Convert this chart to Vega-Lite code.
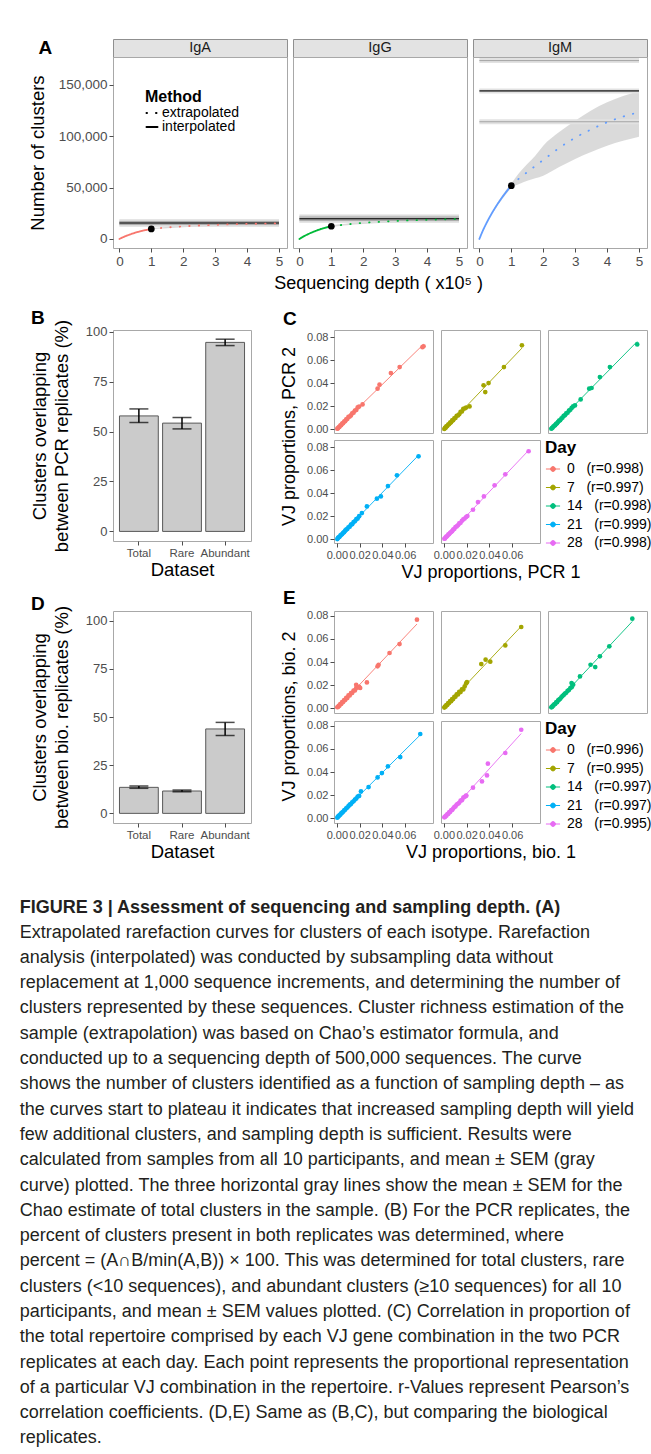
{
"$schema": "https://vega.github.io/schema/vega-lite/v6.json",
"background": "white",
"padding": {"left": 19, "top": 38, "right": 0, "bottom": 0},
"config": {
 "font": "Liberation Sans",
 "view": {"stroke": "#a8a8a8", "strokeWidth": 1},
 "axis": {"grid": false, "domain": false, "tickColor": "#4d4d4d", "tickSize": 4, "tickWidth": 1, "labelColor": "#4d4d4d", "labelPadding": 2, "titleColor": "black", "titleFontWeight": "normal", "titleFontSize": 18},
 "legend": {"titleColor": "black", "labelColor": "black"},
 "title": {"color": "black"}
},
"datasets": {
 "curves": [
  {"iso":"IgA","method":"interpolated","x":0,"y":0,"lo":0,"hi":0},
  {"iso":"IgA","method":"interpolated","x":0.1,"y":1500,"lo":1400,"hi":1600},
  {"iso":"IgA","method":"interpolated","x":0.2,"y":2800,"lo":2620,"hi":2980},
  {"iso":"IgA","method":"interpolated","x":0.3,"y":4000,"lo":3750,"hi":4250},
  {"iso":"IgA","method":"interpolated","x":0.4,"y":5100,"lo":4790,"hi":5410},
  {"iso":"IgA","method":"interpolated","x":0.5,"y":6100,"lo":5740,"hi":6460},
  {"iso":"IgA","method":"interpolated","x":0.6,"y":7000,"lo":6590,"hi":7410},
  {"iso":"IgA","method":"interpolated","x":0.7,"y":7800,"lo":7350,"hi":8250},
  {"iso":"IgA","method":"interpolated","x":0.8,"y":8500,"lo":8010,"hi":8990},
  {"iso":"IgA","method":"interpolated","x":0.9,"y":9150,"lo":8630,"hi":9670},
  {"iso":"IgA","method":"interpolated","x":1,"y":9750,"lo":9200,"hi":10300},
  {"iso":"IgA","method":"extrapolated","x":1,"y":9750,"lo":9200,"hi":10300},
  {"iso":"IgA","method":"extrapolated","x":1.25,"y":10500,"lo":9850,"hi":11150},
  {"iso":"IgA","method":"extrapolated","x":1.5,"y":11150,"lo":10400,"hi":11900},
  {"iso":"IgA","method":"extrapolated","x":1.75,"y":11750,"lo":10900,"hi":12600},
  {"iso":"IgA","method":"extrapolated","x":2,"y":12250,"lo":11300,"hi":13200},
  {"iso":"IgA","method":"extrapolated","x":2.5,"y":13100,"lo":12000,"hi":14200},
  {"iso":"IgA","method":"extrapolated","x":3,"y":13700,"lo":12500,"hi":14900},
  {"iso":"IgA","method":"extrapolated","x":3.5,"y":14200,"lo":12900,"hi":15500},
  {"iso":"IgA","method":"extrapolated","x":4,"y":14600,"lo":13200,"hi":16000},
  {"iso":"IgA","method":"extrapolated","x":4.5,"y":14900,"lo":13400,"hi":16400},
  {"iso":"IgA","method":"extrapolated","x":5,"y":15150,"lo":13600,"hi":16700},
  {"iso":"IgG","method":"interpolated","x":0,"y":0,"lo":0,"hi":0},
  {"iso":"IgG","method":"interpolated","x":0.1,"y":1900,"lo":1780,"hi":2020},
  {"iso":"IgG","method":"interpolated","x":0.2,"y":3550,"lo":3330,"hi":3770},
  {"iso":"IgG","method":"interpolated","x":0.3,"y":5050,"lo":4740,"hi":5360},
  {"iso":"IgG","method":"interpolated","x":0.4,"y":6450,"lo":6060,"hi":6840},
  {"iso":"IgG","method":"interpolated","x":0.5,"y":7700,"lo":7240,"hi":8160},
  {"iso":"IgG","method":"interpolated","x":0.6,"y":8850,"lo":8320,"hi":9380},
  {"iso":"IgG","method":"interpolated","x":0.7,"y":9900,"lo":9310,"hi":10490},
  {"iso":"IgG","method":"interpolated","x":0.8,"y":10850,"lo":10200,"hi":11500},
  {"iso":"IgG","method":"interpolated","x":0.9,"y":11650,"lo":10950,"hi":12350},
  {"iso":"IgG","method":"interpolated","x":1,"y":12350,"lo":11600,"hi":13100},
  {"iso":"IgG","method":"extrapolated","x":1,"y":12350,"lo":11600,"hi":13100},
  {"iso":"IgG","method":"extrapolated","x":1.25,"y":13350,"lo":12500,"hi":14200},
  {"iso":"IgG","method":"extrapolated","x":1.5,"y":14200,"lo":13250,"hi":15150},
  {"iso":"IgG","method":"extrapolated","x":1.75,"y":15000,"lo":13950,"hi":16050},
  {"iso":"IgG","method":"extrapolated","x":2,"y":15650,"lo":14500,"hi":16800},
  {"iso":"IgG","method":"extrapolated","x":2.5,"y":16700,"lo":15400,"hi":18000},
  {"iso":"IgG","method":"extrapolated","x":3,"y":17500,"lo":16050,"hi":18950},
  {"iso":"IgG","method":"extrapolated","x":3.5,"y":18150,"lo":16550,"hi":19750},
  {"iso":"IgG","method":"extrapolated","x":4,"y":18650,"lo":16900,"hi":20400},
  {"iso":"IgG","method":"extrapolated","x":4.5,"y":19050,"lo":17200,"hi":20900},
  {"iso":"IgG","method":"extrapolated","x":5,"y":19400,"lo":17450,"hi":21350},
  {"iso":"IgM","method":"interpolated","x":0,"y":0,"lo":0,"hi":0},
  {"iso":"IgM","method":"interpolated","x":0.1,"y":7500,"lo":7200,"hi":7800},
  {"iso":"IgM","method":"interpolated","x":0.2,"y":14000,"lo":13450,"hi":14550},
  {"iso":"IgM","method":"interpolated","x":0.3,"y":20000,"lo":19200,"hi":20800},
  {"iso":"IgM","method":"interpolated","x":0.4,"y":25500,"lo":24450,"hi":26550},
  {"iso":"IgM","method":"interpolated","x":0.5,"y":30600,"lo":29350,"hi":31850},
  {"iso":"IgM","method":"interpolated","x":0.6,"y":35400,"lo":33950,"hi":36850},
  {"iso":"IgM","method":"interpolated","x":0.7,"y":39900,"lo":38250,"hi":41550},
  {"iso":"IgM","method":"interpolated","x":0.8,"y":44100,"lo":42250,"hi":45950},
  {"iso":"IgM","method":"interpolated","x":0.9,"y":48100,"lo":46100,"hi":50100},
  {"iso":"IgM","method":"interpolated","x":1,"y":51800,"lo":49500,"hi":54000},
  {"iso":"IgM","method":"extrapolated","x":1,"y":51800,"lo":49500,"hi":54000},
  {"iso":"IgM","method":"extrapolated","x":1.25,"y":59000,"lo":53500,"hi":64500},
  {"iso":"IgM","method":"extrapolated","x":1.5,"y":65000,"lo":56500,"hi":73000},
  {"iso":"IgM","method":"extrapolated","x":1.75,"y":71000,"lo":59000,"hi":81000},
  {"iso":"IgM","method":"extrapolated","x":2,"y":76800,"lo":61600,"hi":90700},
  {"iso":"IgM","method":"extrapolated","x":2.5,"y":88500,"lo":70000,"hi":104000},
  {"iso":"IgM","method":"extrapolated","x":3,"y":98500,"lo":77800,"hi":115000},
  {"iso":"IgM","method":"extrapolated","x":3.5,"y":106500,"lo":84500,"hi":125000},
  {"iso":"IgM","method":"extrapolated","x":4,"y":113500,"lo":90700,"hi":132900},
  {"iso":"IgM","method":"extrapolated","x":4.5,"y":119000,"lo":95500,"hi":139000},
  {"iso":"IgM","method":"extrapolated","x":5,"y":123200,"lo":99500,"hi":144000}
 ],
 "hlines": [
  {"iso":"IgA","level":"hi","y":16800},{"iso":"IgA","level":"mean","y":15500},{"iso":"IgA","level":"lo","y":14200},
  {"iso":"IgG","level":"hi","y":21300},{"iso":"IgG","level":"mean","y":19700},{"iso":"IgG","level":"lo","y":18100},
  {"iso":"IgM","level":"hi","y":173500},{"iso":"IgM","level":"mean","y":144000},{"iso":"IgM","level":"lo","y":114000}
 ],
 "vj": [
  {"set":"C","day":0,"x":0.0004,"y":0.0006},{"set":"C","day":0,"x":0.001,"y":0.0009},{"set":"C","day":0,"x":0.0016,"y":0.0018},{"set":"C","day":0,"x":0.0022,"y":0.0021},{"set":"C","day":0,"x":0.003,"y":0.0033},{"set":"C","day":0,"x":0.0038,"y":0.0036},{"set":"C","day":0,"x":0.0046,"y":0.005},{"set":"C","day":0,"x":0.0055,"y":0.0053},{"set":"C","day":0,"x":0.0064,"y":0.0068},{"set":"C","day":0,"x":0.0073,"y":0.0071},{"set":"C","day":0,"x":0.0082,"y":0.0086},{"set":"C","day":0,"x":0.0092,"y":0.009},{"set":"C","day":0,"x":0.0102,"y":0.0108},{"set":"C","day":0,"x":0.0113,"y":0.0111},{"set":"C","day":0,"x":0.0124,"y":0.0121},{"set":"C","day":0,"x":0.0135,"y":0.0139},{"set":"C","day":0,"x":0.0147,"y":0.0145},{"set":"C","day":0,"x":0.0159,"y":0.0163},{"set":"C","day":0,"x":0.0171,"y":0.0168},{"set":"C","day":0,"x":0.0183,"y":0.019},{"set":"C","day":0,"x":0.0196,"y":0.0198},
  {"set":"C","day":0,"x":0.0226,"y":0.0216},{"set":"C","day":0,"x":0.0358,"y":0.0353},{"set":"C","day":0,"x":0.0375,"y":0.0388},{"set":"C","day":0,"x":0.0475,"y":0.0489},{"set":"C","day":0,"x":0.0552,"y":0.0541},{"set":"C","day":0,"x":0.0762,"y":0.0722},{"set":"C","day":0,"x":0.0752,"y":0.0714},
  {"set":"C","day":7,"x":0.0004,"y":0.0003},{"set":"C","day":7,"x":0.001,"y":0.0012},{"set":"C","day":7,"x":0.0016,"y":0.0014},{"set":"C","day":7,"x":0.0022,"y":0.0025},{"set":"C","day":7,"x":0.003,"y":0.0028},{"set":"C","day":7,"x":0.0038,"y":0.0041},{"set":"C","day":7,"x":0.0046,"y":0.0044},{"set":"C","day":7,"x":0.0055,"y":0.0058},{"set":"C","day":7,"x":0.0064,"y":0.0061},{"set":"C","day":7,"x":0.0073,"y":0.0077},{"set":"C","day":7,"x":0.0082,"y":0.0079},{"set":"C","day":7,"x":0.0092,"y":0.0096},{"set":"C","day":7,"x":0.0102,"y":0.0099},{"set":"C","day":7,"x":0.0113,"y":0.0118},{"set":"C","day":7,"x":0.0124,"y":0.012},{"set":"C","day":7,"x":0.0135,"y":0.0131},{"set":"C","day":7,"x":0.0147,"y":0.0152},{"set":"C","day":7,"x":0.0159,"y":0.0155},{"set":"C","day":7,"x":0.0171,"y":0.0178},{"set":"C","day":7,"x":0.0183,"y":0.0181},{"set":"C","day":7,"x":0.0196,"y":0.0189},
  {"set":"C","day":7,"x":0.0226,"y":0.0199},{"set":"C","day":7,"x":0.0349,"y":0.0382},{"set":"C","day":7,"x":0.0364,"y":0.0324},{"set":"C","day":7,"x":0.0393,"y":0.0402},{"set":"C","day":7,"x":0.0528,"y":0.0541},{"set":"C","day":7,"x":0.0686,"y":0.073},
  {"set":"C","day":14,"x":0.0004,"y":0.0005},{"set":"C","day":14,"x":0.001,"y":0.0011},{"set":"C","day":14,"x":0.0016,"y":0.0015},{"set":"C","day":14,"x":0.0022,"y":0.0024},{"set":"C","day":14,"x":0.003,"y":0.0031},{"set":"C","day":14,"x":0.0038,"y":0.0036},{"set":"C","day":14,"x":0.0046,"y":0.0048},{"set":"C","day":14,"x":0.0055,"y":0.0052},{"set":"C","day":14,"x":0.0064,"y":0.0066},{"set":"C","day":14,"x":0.0073,"y":0.0075},{"set":"C","day":14,"x":0.0082,"y":0.0079},{"set":"C","day":14,"x":0.0092,"y":0.0094},{"set":"C","day":14,"x":0.0102,"y":0.0101},{"set":"C","day":14,"x":0.0113,"y":0.0116},{"set":"C","day":14,"x":0.0124,"y":0.0122},{"set":"C","day":14,"x":0.0135,"y":0.0138},{"set":"C","day":14,"x":0.0147,"y":0.0144},{"set":"C","day":14,"x":0.0159,"y":0.0162},{"set":"C","day":14,"x":0.0171,"y":0.0169},{"set":"C","day":14,"x":0.0183,"y":0.0186},{"set":"C","day":14,"x":0.0196,"y":0.0199},
  {"set":"C","day":14,"x":0.0212,"y":0.0208},{"set":"C","day":14,"x":0.0262,"y":0.026},{"set":"C","day":14,"x":0.0337,"y":0.0353},{"set":"C","day":14,"x":0.0358,"y":0.0359},{"set":"C","day":14,"x":0.0431,"y":0.0454},{"set":"C","day":14,"x":0.0519,"y":0.0541},{"set":"C","day":14,"x":0.0759,"y":0.0738},
  {"set":"C","day":21,"x":0.0004,"y":0.0002},{"set":"C","day":21,"x":0.001,"y":0.0012},{"set":"C","day":21,"x":0.0016,"y":0.0017},{"set":"C","day":21,"x":0.0022,"y":0.002},{"set":"C","day":21,"x":0.003,"y":0.0032},{"set":"C","day":21,"x":0.0038,"y":0.0039},{"set":"C","day":21,"x":0.0046,"y":0.0044},{"set":"C","day":21,"x":0.0055,"y":0.0057},{"set":"C","day":21,"x":0.0064,"y":0.0062},{"set":"C","day":21,"x":0.0073,"y":0.0075},{"set":"C","day":21,"x":0.0082,"y":0.0084},{"set":"C","day":21,"x":0.0092,"y":0.009},{"set":"C","day":21,"x":0.0102,"y":0.0105},{"set":"C","day":21,"x":0.0113,"y":0.011},{"set":"C","day":21,"x":0.0124,"y":0.0127},{"set":"C","day":21,"x":0.0135,"y":0.0132},{"set":"C","day":21,"x":0.0147,"y":0.015},{"set":"C","day":21,"x":0.0159,"y":0.0157},{"set":"C","day":21,"x":0.0171,"y":0.0175},{"set":"C","day":21,"x":0.0183,"y":0.018},{"set":"C","day":21,"x":0.0196,"y":0.0201},
  {"set":"C","day":21,"x":0.022,"y":0.0228},{"set":"C","day":21,"x":0.0264,"y":0.0286},{"set":"C","day":21,"x":0.0352,"y":0.0353},{"set":"C","day":21,"x":0.0387,"y":0.0373},{"set":"C","day":21,"x":0.0449,"y":0.0463},{"set":"C","day":21,"x":0.0528,"y":0.0556},{"set":"C","day":21,"x":0.0718,"y":0.0721},
  {"set":"C","day":28,"x":0.0004,"y":0.0005},{"set":"C","day":28,"x":0.001,"y":0.0008},{"set":"C","day":28,"x":0.0016,"y":0.0018},{"set":"C","day":28,"x":0.0022,"y":0.0023},{"set":"C","day":28,"x":0.003,"y":0.0028},{"set":"C","day":28,"x":0.0038,"y":0.004},{"set":"C","day":28,"x":0.0046,"y":0.0045},{"set":"C","day":28,"x":0.0055,"y":0.0057},{"set":"C","day":28,"x":0.0064,"y":0.0063},{"set":"C","day":28,"x":0.0073,"y":0.0071},{"set":"C","day":28,"x":0.0082,"y":0.0085},{"set":"C","day":28,"x":0.0092,"y":0.009},{"set":"C","day":28,"x":0.0102,"y":0.0106},{"set":"C","day":28,"x":0.0113,"y":0.0112},{"set":"C","day":28,"x":0.0124,"y":0.0122},{"set":"C","day":28,"x":0.0135,"y":0.0138},{"set":"C","day":28,"x":0.0147,"y":0.0143},{"set":"C","day":28,"x":0.0159,"y":0.0161},{"set":"C","day":28,"x":0.0171,"y":0.0173},{"set":"C","day":28,"x":0.0183,"y":0.0181},{"set":"C","day":28,"x":0.0196,"y":0.0194},
  {"set":"C","day":28,"x":0.0207,"y":0.0202},{"set":"C","day":28,"x":0.0256,"y":0.0257},{"set":"C","day":28,"x":0.03,"y":0.0324},{"set":"C","day":28,"x":0.0352,"y":0.0373},{"set":"C","day":28,"x":0.0446,"y":0.0469},{"set":"C","day":28,"x":0.054,"y":0.0565},{"set":"C","day":28,"x":0.0745,"y":0.0765},
  {"set":"E","day":0,"x":0.0004,"y":0.0007},{"set":"E","day":0,"x":0.001,"y":0.0009},{"set":"E","day":0,"x":0.0016,"y":0.002},{"set":"E","day":0,"x":0.0022,"y":0.0019},{"set":"E","day":0,"x":0.003,"y":0.0034},{"set":"E","day":0,"x":0.0038,"y":0.0035},{"set":"E","day":0,"x":0.0046,"y":0.0051},{"set":"E","day":0,"x":0.0055,"y":0.0052},{"set":"E","day":0,"x":0.0064,"y":0.007},{"set":"E","day":0,"x":0.0073,"y":0.0069},{"set":"E","day":0,"x":0.0082,"y":0.0088},{"set":"E","day":0,"x":0.0092,"y":0.0087},{"set":"E","day":0,"x":0.0102,"y":0.011},{"set":"E","day":0,"x":0.0113,"y":0.0109},{"set":"E","day":0,"x":0.0124,"y":0.0129},{"set":"E","day":0,"x":0.0135,"y":0.0131},{"set":"E","day":0,"x":0.0147,"y":0.0152},{"set":"E","day":0,"x":0.0159,"y":0.0153},{"set":"E","day":0,"x":0.0171,"y":0.0176},{"set":"E","day":0,"x":0.0183,"y":0.0179},{"set":"E","day":0,"x":0.0196,"y":0.0185},
  {"set":"E","day":0,"x":0.017,"y":0.0202},{"set":"E","day":0,"x":0.0205,"y":0.0174},{"set":"E","day":0,"x":0.0264,"y":0.0223},{"set":"E","day":0,"x":0.0358,"y":0.0362},{"set":"E","day":0,"x":0.0367,"y":0.0376},{"set":"E","day":0,"x":0.0463,"y":0.0478},{"set":"E","day":0,"x":0.0551,"y":0.0556},{"set":"E","day":0,"x":0.0704,"y":0.0768},
  {"set":"E","day":7,"x":0.0004,"y":0.0004},{"set":"E","day":7,"x":0.001,"y":0.0013},{"set":"E","day":7,"x":0.0016,"y":0.0013},{"set":"E","day":7,"x":0.0022,"y":0.0026},{"set":"E","day":7,"x":0.003,"y":0.0027},{"set":"E","day":7,"x":0.0038,"y":0.0042},{"set":"E","day":7,"x":0.0046,"y":0.0043},{"set":"E","day":7,"x":0.0055,"y":0.006},{"set":"E","day":7,"x":0.0064,"y":0.006},{"set":"E","day":7,"x":0.0073,"y":0.0078},{"set":"E","day":7,"x":0.0082,"y":0.0078},{"set":"E","day":7,"x":0.0092,"y":0.0097},{"set":"E","day":7,"x":0.0102,"y":0.0098},{"set":"E","day":7,"x":0.0113,"y":0.0119},{"set":"E","day":7,"x":0.0124,"y":0.0118},{"set":"E","day":7,"x":0.0135,"y":0.0141},{"set":"E","day":7,"x":0.0147,"y":0.0139},{"set":"E","day":7,"x":0.0159,"y":0.0163},{"set":"E","day":7,"x":0.0171,"y":0.0162},{"set":"E","day":7,"x":0.0183,"y":0.0188},{"set":"E","day":7,"x":0.0196,"y":0.0214},
  {"set":"E","day":7,"x":0.0203,"y":0.0225},{"set":"E","day":7,"x":0.0329,"y":0.0382},{"set":"E","day":7,"x":0.0367,"y":0.042},{"set":"E","day":7,"x":0.0408,"y":0.0403},{"set":"E","day":7,"x":0.054,"y":0.0544},{"set":"E","day":7,"x":0.068,"y":0.0704},
  {"set":"E","day":14,"x":0.0004,"y":0.0006},{"set":"E","day":14,"x":0.001,"y":0.001},{"set":"E","day":14,"x":0.0016,"y":0.0017},{"set":"E","day":14,"x":0.0022,"y":0.0023},{"set":"E","day":14,"x":0.003,"y":0.0032},{"set":"E","day":14,"x":0.0038,"y":0.0035},{"set":"E","day":14,"x":0.0046,"y":0.0049},{"set":"E","day":14,"x":0.0055,"y":0.0051},{"set":"E","day":14,"x":0.0064,"y":0.0067},{"set":"E","day":14,"x":0.0073,"y":0.0073},{"set":"E","day":14,"x":0.0082,"y":0.0081},{"set":"E","day":14,"x":0.0092,"y":0.0093},{"set":"E","day":14,"x":0.0102,"y":0.0104},{"set":"E","day":14,"x":0.0113,"y":0.0114},{"set":"E","day":14,"x":0.0124,"y":0.0126},{"set":"E","day":14,"x":0.0135,"y":0.0133},{"set":"E","day":14,"x":0.0147,"y":0.0149},{"set":"E","day":14,"x":0.0159,"y":0.0157},{"set":"E","day":14,"x":0.0171,"y":0.0174},{"set":"E","day":14,"x":0.0183,"y":0.0181},{"set":"E","day":14,"x":0.0196,"y":0.0203},
  {"set":"E","day":14,"x":0.0182,"y":0.0217},{"set":"E","day":14,"x":0.0256,"y":0.0275},{"set":"E","day":14,"x":0.0349,"y":0.0376},{"set":"E","day":14,"x":0.039,"y":0.0356},{"set":"E","day":14,"x":0.0431,"y":0.0449},{"set":"E","day":14,"x":0.0514,"y":0.0536},{"set":"E","day":14,"x":0.0716,"y":0.0776},
  {"set":"E","day":21,"x":0.0004,"y":0.0003},{"set":"E","day":21,"x":0.001,"y":0.0012},{"set":"E","day":21,"x":0.0016,"y":0.0016},{"set":"E","day":21,"x":0.0022,"y":0.0024},{"set":"E","day":21,"x":0.003,"y":0.0029},{"set":"E","day":21,"x":0.0038,"y":0.004},{"set":"E","day":21,"x":0.0046,"y":0.0047},{"set":"E","day":21,"x":0.0055,"y":0.0054},{"set":"E","day":21,"x":0.0064,"y":0.0066},{"set":"E","day":21,"x":0.0073,"y":0.0072},{"set":"E","day":21,"x":0.0082,"y":0.0085},{"set":"E","day":21,"x":0.0092,"y":0.0091},{"set":"E","day":21,"x":0.0102,"y":0.0103},{"set":"E","day":21,"x":0.0113,"y":0.0116},{"set":"E","day":21,"x":0.0124,"y":0.0121},{"set":"E","day":21,"x":0.0135,"y":0.0137},{"set":"E","day":21,"x":0.0147,"y":0.0146},{"set":"E","day":21,"x":0.0159,"y":0.0161},{"set":"E","day":21,"x":0.0171,"y":0.0169},{"set":"E","day":21,"x":0.0183,"y":0.0187},{"set":"E","day":21,"x":0.0196,"y":0.0192},
  {"set":"E","day":21,"x":0.0212,"y":0.0231},{"set":"E","day":21,"x":0.0279,"y":0.0269},{"set":"E","day":21,"x":0.0358,"y":0.0353},{"set":"E","day":21,"x":0.0396,"y":0.0391},{"set":"E","day":21,"x":0.0449,"y":0.0449},{"set":"E","day":21,"x":0.0557,"y":0.053},{"set":"E","day":21,"x":0.0733,"y":0.073},
  {"set":"E","day":28,"x":0.0004,"y":0.0006},{"set":"E","day":28,"x":0.001,"y":0.0009},{"set":"E","day":28,"x":0.0016,"y":0.0019},{"set":"E","day":28,"x":0.0022,"y":0.002},{"set":"E","day":28,"x":0.003,"y":0.0033},{"set":"E","day":28,"x":0.0038,"y":0.0036},{"set":"E","day":28,"x":0.0046,"y":0.0049},{"set":"E","day":28,"x":0.0055,"y":0.0053},{"set":"E","day":28,"x":0.0064,"y":0.0068},{"set":"E","day":28,"x":0.0073,"y":0.0071},{"set":"E","day":28,"x":0.0082,"y":0.0083},{"set":"E","day":28,"x":0.0092,"y":0.0095},{"set":"E","day":28,"x":0.0102,"y":0.0101},{"set":"E","day":28,"x":0.0113,"y":0.0117},{"set":"E","day":28,"x":0.0124,"y":0.0124},{"set":"E","day":28,"x":0.0135,"y":0.0132},{"set":"E","day":28,"x":0.0147,"y":0.0151},{"set":"E","day":28,"x":0.0159,"y":0.0155},{"set":"E","day":28,"x":0.0171,"y":0.0177},{"set":"E","day":28,"x":0.0183,"y":0.0184},{"set":"E","day":28,"x":0.0196,"y":0.0196},
  {"set":"E","day":28,"x":0.0197,"y":0.0193},{"set":"E","day":28,"x":0.0256,"y":0.0264},{"set":"E","day":28,"x":0.0335,"y":0.0318},{"set":"E","day":28,"x":0.0379,"y":0.037},{"set":"E","day":28,"x":0.0387,"y":0.0472},{"set":"E","day":28,"x":0.054,"y":0.0565},{"set":"E","day":28,"x":0.068,"y":0.0767}
 ]
},
"title": {
 "text": "FIGURE 3 | Assessment of sequencing and sampling depth. (A)",
 "subtitle": [
  "Extrapolated rarefaction curves for clusters of each isotype. Rarefaction",
  "analysis (interpolated) was conducted by subsampling data without",
  "replacement at 1,000 sequence increments, and determining the number of",
  "clusters represented by these sequences. Cluster richness estimation of the",
  "sample (extrapolation) was based on Chao’s estimator formula, and",
  "conducted up to a sequencing depth of 500,000 sequences. The curve",
  "shows the number of clusters identified as a function of sampling depth – as",
  "the curves start to plateau it indicates that increased sampling depth will yield",
  "few additional clusters, and sampling depth is sufficient. Results were",
  "calculated from samples from all 10 participants, and mean ± SEM (gray",
  "curve) plotted. The three horizontal gray lines show the mean ± SEM for the",
  "Chao estimate of total clusters in the sample. (B) For the PCR replicates, the",
  "percent of clusters present in both replicates was determined, where",
  "percent = (A∩B/min(A,B)) × 100. This was determined for total clusters, rare",
  "clusters (<10 sequences), and abundant clusters (≥10 sequences) for all 10",
  "participants, and mean ± SEM values plotted. (C) Correlation in proportion of",
  "the total repertoire comprised by each VJ gene combination in the two PCR",
  "replicates at each day. Each point represents the proportional representation",
  "of a particular VJ combination in the repertoire. r-Values represent Pearson’s",
  "correlation coefficients. (D,E) Same as (B,C), but comparing the biological",
  "replicates."
 ],
 "orient": "bottom", "anchor": "start", "frame": "bounds", "offset": 37, "dx": -8,
 "font": "Liberation Sans", "fontSize": 18, "fontWeight": "bold", "color": "#231f20",
 "subtitleFont": "Liberation Sans", "subtitleFontSize": 18, "subtitleColor": "#231f20", "subtitleLineHeight": 25.3, "subtitlePadding": 7, "subtitleFontWeight": "normal"
},
"spacing": 15,
"resolve": {"scale": {"strokeDash": "independent", "fill": "independent", "stroke": "independent"}, "legend": {"strokeDash": "independent", "fill": "independent", "stroke": "independent"}},
"vconcat": [
 {
  "title": {"text": "Sequencing depth  ( x10⁵ )", "orient": "bottom", "anchor": "middle", "frame": "bounds", "dx": 41, "offset": 7, "fontSize": 18, "fontWeight": "normal", "color": "black"},
  "hconcat": [
   {
    "vconcat": [
     {"width": 174, "height": 18, "view": {"fill": "#e3e3e3", "stroke": "#8f8f8f"},
      "title": {"text": "A", "orient": "left", "angle": 0, "align": "right", "baseline": "middle", "anchor": "middle", "offset": 47, "fontSize": 19, "fontWeight": "bold", "color": "black"},
      "data": {"values": [{"iso": "IgA"}]},
      "mark": {"type": "text", "fontSize": 14.5, "color": "#1a1a1a", "baseline": "middle"},
      "encoding": {"text": {"field": "iso"}}},
     {"width": 174, "height": 191,
      "layer": [
       {"data": {"name": "curves"}, "transform": [{"filter": "datum.iso=='IgA' && !(datum.method=='extrapolated' && datum.x==1)"}],
        "mark": {"type": "area", "color": "#d6d6d6", "opacity": 0.9, "interpolate": "monotone"},
        "encoding": {"x": {"field": "x", "type": "quantitative", "scale": {"domain": [-0.2, 5.25], "nice": false, "zero": false}, "axis": {"values": [0,1,2,3,4,5], "title": null, "labelFontSize": 13.5, "labelFlush": false}},
                     "y": {"field": "lo", "type": "quantitative", "scale": {"domain": [-8800, 177000], "nice": false, "zero": false}, "axis": {"values": [0,50000,100000,150000], "format": ",d", "title": "Number of clusters", "titleFontSize": 18.5, "labelFontSize": 13.5, "titlePadding": 11}},
                     "y2": {"field": "hi"}}},
       {"data": {"name": "hlines"}, "transform": [{"filter": "datum.iso=='IgA'"}],
        "mark": {"type": "rule", "color": "#dcdcdc", "strokeWidth": 5},
        "encoding": {"x": {"datum": 0, "type": "quantitative", "axis": {"values": [0,1,2,3,4,5], "title": null, "labelFontSize": 13.5, "labelFlush": false}}, "x2": {"datum": 5},
                     "y": {"field": "y", "type": "quantitative", "axis": {"values": [0,50000,100000,150000], "format": ",d", "title": "Number of clusters", "titleFontSize": 18.5, "labelFontSize": 13.5, "titlePadding": 11}}}},
       {"data": {"name": "hlines"}, "transform": [{"filter": "datum.iso=='IgA' && datum.level!='mean'"}],
        "mark": {"type": "rule", "color": "#a3a3a3", "strokeWidth": 1},
        "encoding": {"x": {"datum": 0, "type": "quantitative", "axis": {"values": [0,1,2,3,4,5], "title": null, "labelFontSize": 13.5, "labelFlush": false}}, "x2": {"datum": 5},
                     "y": {"field": "y", "type": "quantitative", "axis": {"values": [0,50000,100000,150000], "format": ",d", "title": "Number of clusters", "titleFontSize": 18.5, "labelFontSize": 13.5, "titlePadding": 11}}}},
       {"data": {"name": "hlines"}, "transform": [{"filter": "datum.iso=='IgA' && datum.level=='mean'"}],
        "mark": {"type": "rule", "color": "#2b2b2b", "strokeWidth": 1.4},
        "encoding": {"x": {"datum": 0, "type": "quantitative", "axis": {"values": [0,1,2,3,4,5], "title": null, "labelFontSize": 13.5, "labelFlush": false}}, "x2": {"datum": 5},
                     "y": {"field": "y", "type": "quantitative", "axis": {"values": [0,50000,100000,150000], "format": ",d", "title": "Number of clusters", "titleFontSize": 18.5, "labelFontSize": 13.5, "titlePadding": 11}}}},
       {"data": {"name": "curves"}, "transform": [{"filter": "datum.iso=='IgA'"}],
        "mark": {"type": "line", "color": "#F8766D", "strokeWidth": 1.8, "strokeCap": "round", "interpolate": "monotone"},
        "encoding": {"x": {"field": "x", "type": "quantitative", "axis": {"values": [0,1,2,3,4,5], "title": null, "labelFontSize": 13.5, "labelFlush": false}},
                     "y": {"field": "y", "type": "quantitative", "axis": {"values": [0,50000,100000,150000], "format": ",d", "title": "Number of clusters", "titleFontSize": 18.5, "labelFontSize": 13.5, "titlePadding": 11}},
                     "strokeDash": {"field": "method", "type": "nominal", "scale": {"domain": ["extrapolated", "interpolated"], "range": [[0.5, 9], [1, 0]]},
                       "legend": {"title": "Method", "orient": "top-left", "offset": 32, "padding": 0, "titleFontSize": 16, "titleFontWeight": "bold", "labelFontSize": 14, "symbolType": "stroke", "symbolSize": 121, "symbolStrokeWidth": 2, "symbolStrokeColor": "black", "rowPadding": -1, "titlePadding": 1, "labelOffset": 3,
                         "encode": {"symbols": {"update": {"stroke": {"value": "black"}, "strokeCap": {"value": "round"}}}}}}}},
       {"data": {"name": "curves"}, "transform": [{"filter": "datum.iso=='IgA' && datum.method=='interpolated' && datum.x==1"}],
        "mark": {"type": "circle", "color": "black", "size": 45, "opacity": 1},
        "encoding": {"x": {"field": "x", "type": "quantitative", "axis": {"values": [0,1,2,3,4,5], "title": null, "labelFontSize": 13.5, "labelFlush": false}},
                     "y": {"field": "y", "type": "quantitative", "axis": {"values": [0,50000,100000,150000], "format": ",d", "title": "Number of clusters", "titleFontSize": 18.5, "labelFontSize": 13.5, "titlePadding": 11}}}}
      ]}
    ],
    "spacing": 0, "bounds": "flush",
    "resolve": {"scale": {"strokeDash": "independent"}, "legend": {"strokeDash": "independent"}}
   },
   {
    "vconcat": [
     {"width": 174, "height": 18, "view": {"fill": "#e3e3e3", "stroke": "#8f8f8f"},
      "data": {"values": [{"iso": "IgG"}]},
      "mark": {"type": "text", "fontSize": 14.5, "color": "#1a1a1a", "baseline": "middle"},
      "encoding": {"text": {"field": "iso"}}},
     {"width": 174, "height": 191,
      "layer": [
       {"data": {"name": "curves"}, "transform": [{"filter": "datum.iso=='IgG' && !(datum.method=='extrapolated' && datum.x==1)"}],
        "mark": {"type": "area", "color": "#d6d6d6", "opacity": 0.9, "interpolate": "monotone"},
        "encoding": {"x": {"field": "x", "type": "quantitative", "scale": {"domain": [-0.2, 5.25], "nice": false, "zero": false}, "axis": {"values": [0,1,2,3,4,5], "title": null, "labelFontSize": 13.5, "labelFlush": false}},
                     "y": {"field": "lo", "type": "quantitative", "scale": {"domain": [-8800, 177000], "nice": false, "zero": false}, "axis": null},
                     "y2": {"field": "hi"}}},
       {"data": {"name": "hlines"}, "transform": [{"filter": "datum.iso=='IgG'"}],
        "mark": {"type": "rule", "color": "#dcdcdc", "strokeWidth": 5},
        "encoding": {"x": {"datum": 0, "type": "quantitative", "axis": {"values": [0,1,2,3,4,5], "title": null, "labelFontSize": 13.5, "labelFlush": false}}, "x2": {"datum": 5}, "y": {"field": "y", "type": "quantitative", "axis": null}}},
       {"data": {"name": "hlines"}, "transform": [{"filter": "datum.iso=='IgG' && datum.level!='mean'"}],
        "mark": {"type": "rule", "color": "#a3a3a3", "strokeWidth": 1},
        "encoding": {"x": {"datum": 0, "type": "quantitative", "axis": {"values": [0,1,2,3,4,5], "title": null, "labelFontSize": 13.5, "labelFlush": false}}, "x2": {"datum": 5}, "y": {"field": "y", "type": "quantitative", "axis": null}}},
       {"data": {"name": "hlines"}, "transform": [{"filter": "datum.iso=='IgG' && datum.level=='mean'"}],
        "mark": {"type": "rule", "color": "#2b2b2b", "strokeWidth": 1.4},
        "encoding": {"x": {"datum": 0, "type": "quantitative", "axis": {"values": [0,1,2,3,4,5], "title": null, "labelFontSize": 13.5, "labelFlush": false}}, "x2": {"datum": 5}, "y": {"field": "y", "type": "quantitative", "axis": null}}},
       {"data": {"name": "curves"}, "transform": [{"filter": "datum.iso=='IgG'"}],
        "mark": {"type": "line", "color": "#00BA38", "strokeWidth": 1.8, "strokeCap": "round", "interpolate": "monotone"},
        "encoding": {"x": {"field": "x", "type": "quantitative", "axis": {"values": [0,1,2,3,4,5], "title": null, "labelFontSize": 13.5, "labelFlush": false}}, "y": {"field": "y", "type": "quantitative", "axis": null},
                     "strokeDash": {"field": "method", "type": "nominal", "scale": {"domain": ["extrapolated", "interpolated"], "range": [[0.5, 9], [1, 0]]}, "legend": null}}},
       {"data": {"name": "curves"}, "transform": [{"filter": "datum.iso=='IgG' && datum.method=='interpolated' && datum.x==1"}],
        "mark": {"type": "circle", "color": "black", "size": 45, "opacity": 1},
        "encoding": {"x": {"field": "x", "type": "quantitative", "axis": {"values": [0,1,2,3,4,5], "title": null, "labelFontSize": 13.5, "labelFlush": false}}, "y": {"field": "y", "type": "quantitative", "axis": null}}}
      ]}
    ],
    "spacing": 0, "bounds": "flush",
    "resolve": {"scale": {"strokeDash": "independent"}, "legend": {"strokeDash": "independent"}}
   },
   {
    "vconcat": [
     {"width": 174, "height": 18, "view": {"fill": "#e3e3e3", "stroke": "#8f8f8f"},
      "data": {"values": [{"iso": "IgM"}]},
      "mark": {"type": "text", "fontSize": 14.5, "color": "#1a1a1a", "baseline": "middle"},
      "encoding": {"text": {"field": "iso"}}},
     {"width": 174, "height": 191,
      "layer": [
       {"data": {"name": "curves"}, "transform": [{"filter": "datum.iso=='IgM' && !(datum.method=='extrapolated' && datum.x==1)"}],
        "mark": {"type": "area", "color": "#d6d6d6", "opacity": 0.9, "interpolate": "monotone"},
        "encoding": {"x": {"field": "x", "type": "quantitative", "scale": {"domain": [-0.2, 5.25], "nice": false, "zero": false}, "axis": {"values": [0,1,2,3,4,5], "title": null, "labelFontSize": 13.5, "labelFlush": false}},
                     "y": {"field": "lo", "type": "quantitative", "scale": {"domain": [-8800, 177000], "nice": false, "zero": false}, "axis": null},
                     "y2": {"field": "hi"}}},
       {"data": {"name": "hlines"}, "transform": [{"filter": "datum.iso=='IgM'"}],
        "mark": {"type": "rule", "color": "#e2e2e2", "strokeWidth": 5},
        "encoding": {"x": {"datum": 0, "type": "quantitative", "axis": {"values": [0,1,2,3,4,5], "title": null, "labelFontSize": 13.5, "labelFlush": false}}, "x2": {"datum": 5}, "y": {"field": "y", "type": "quantitative", "axis": null}}},
       {"data": {"name": "hlines"}, "transform": [{"filter": "datum.iso=='IgM' && datum.level!='mean'"}],
        "mark": {"type": "rule", "color": "#a3a3a3", "strokeWidth": 1},
        "encoding": {"x": {"datum": 0, "type": "quantitative", "axis": {"values": [0,1,2,3,4,5], "title": null, "labelFontSize": 13.5, "labelFlush": false}}, "x2": {"datum": 5}, "y": {"field": "y", "type": "quantitative", "axis": null}}},
       {"data": {"name": "hlines"}, "transform": [{"filter": "datum.iso=='IgM' && datum.level=='mean'"}],
        "mark": {"type": "rule", "color": "#4a4a4a", "strokeWidth": 1.6},
        "encoding": {"x": {"datum": 0, "type": "quantitative", "axis": {"values": [0,1,2,3,4,5], "title": null, "labelFontSize": 13.5, "labelFlush": false}}, "x2": {"datum": 5}, "y": {"field": "y", "type": "quantitative", "axis": null}}},
       {"data": {"name": "curves"}, "transform": [{"filter": "datum.iso=='IgM'"}],
        "mark": {"type": "line", "color": "#619CFF", "strokeWidth": 1.8, "strokeCap": "round", "interpolate": "monotone"},
        "encoding": {"x": {"field": "x", "type": "quantitative", "axis": {"values": [0,1,2,3,4,5], "title": null, "labelFontSize": 13.5, "labelFlush": false}}, "y": {"field": "y", "type": "quantitative", "axis": null},
                     "strokeDash": {"field": "method", "type": "nominal", "scale": {"domain": ["extrapolated", "interpolated"], "range": [[0.5, 9], [1, 0]]}, "legend": null}}},
       {"data": {"name": "curves"}, "transform": [{"filter": "datum.iso=='IgM' && datum.method=='interpolated' && datum.x==1"}],
        "mark": {"type": "circle", "color": "black", "size": 45, "opacity": 1},
        "encoding": {"x": {"field": "x", "type": "quantitative", "axis": {"values": [0,1,2,3,4,5], "title": null, "labelFontSize": 13.5, "labelFlush": false}}, "y": {"field": "y", "type": "quantitative", "axis": null}}}
      ]}
    ],
    "spacing": 0, "bounds": "flush",
    "resolve": {"scale": {"strokeDash": "independent"}, "legend": {"strokeDash": "independent"}}
   }
  ],
  "spacing": 4,
  "resolve": {"scale": {"strokeDash": "independent"}, "legend": {"strokeDash": "independent"}}
 },
 {
  "vconcat": [
   {
    "hconcat": [
     {"width": 138, "height": 211,
      "title": {"text": "B", "orient": "top", "anchor": "start", "frame": "group", "dx": -82, "offset": -9, "fontSize": 19, "fontWeight": "bold", "color": "black"},
      "data": {"values": [{"ds": "Total", "mean": 57.8, "lo": 54.5, "hi": 61.3}, {"ds": "Rare", "mean": 54.2, "lo": 51.3, "hi": 57.0}, {"ds": "Abundant", "mean": 94.6, "lo": 93.0, "hi": 96.2}]},
      "encoding": {"x": {"field": "ds", "type": "nominal", "sort": ["Total", "Rare", "Abundant"], "scale": {"paddingInner": 0.1, "paddingOuter": 0.15},
                         "axis": {"title": "Dataset", "labelAngle": 0, "labelFontSize": 11.5, "titleFontSize": 18.5, "titlePadding": 2}}},
      "layer": [
       {"mark": {"type": "bar", "fill": "#cbcbcb", "stroke": "#595959", "strokeWidth": 1},
        "encoding": {"y": {"field": "mean", "type": "quantitative", "scale": {"domain": [-4.8, 100.8], "nice": false, "zero": false},
                           "axis": {"values": [0, 25, 50, 75, 100], "title": ["Clusters overlapping", "between PCR replicates (%)"], "titleFontSize": 18.5, "titleLineHeight": 22, "labelFontSize": 13, "titlePadding": 14}},
                     "y2": {"datum": 0}}},
       {"mark": {"type": "rule", "color": "black", "strokeWidth": 1.5},
        "encoding": {"y": {"field": "lo", "type": "quantitative"}, "y2": {"field": "hi"}}},
       {"mark": {"type": "tick", "color": "black", "thickness": 1.5, "size": 19},
        "encoding": {"y": {"field": "lo", "type": "quantitative"}}},
       {"mark": {"type": "tick", "color": "black", "thickness": 1.5, "size": 19},
        "encoding": {"y": {"field": "hi", "type": "quantitative"}}}
      ]},
     {
      "title": {"text": "C", "orient": "top", "anchor": "start", "frame": "bounds", "dx": 2, "offset": 1, "fontSize": 19, "fontWeight": "bold", "color": "black"},
      "vconcat": [
       {
        "title": {"text": "VJ proportions, PCR 2", "orient": "left", "anchor": "middle", "frame": "bounds", "dx": 19, "offset": 7, "fontSize": 18, "fontWeight": "normal", "color": "black"},
        "columns": 3,
        "spacing": {"row": 7, "column": 8},
        "bounds": "flush",
        "resolve": {"scale": {"fill": "independent", "stroke": "independent"}, "legend": {"fill": "independent", "stroke": "independent"}},
        "concat": [
         {"width": 99, "height": 103,
          "data": {"name": "vj"}, "transform": [{"filter": "datum.set=='C' && datum.day==0"}],
          "encoding": {"x": {"field": "x", "type": "quantitative", "scale": {"domain": [-0.0025, 0.0845], "nice": false, "zero": false}, "axis": null},
                       "y": {"field": "y", "type": "quantitative", "scale": {"domain": [-0.0032, 0.0863], "nice": false, "zero": false}, "axis": {"values": [0, 0.02, 0.04, 0.06, 0.08], "format": ".2f", "title": null, "labelFontSize": 11}}},
          "layer": [{"transform": [{"regression": "y", "on": "x"}], "mark": {"type": "line", "color": "#F8766D", "strokeWidth": 0.9}},
                    {"mark": {"type": "circle", "color": "#F8766D", "size": 22, "opacity": 1}}]},
         {"width": 99, "height": 103,
          "data": {"name": "vj"}, "transform": [{"filter": "datum.set=='C' && datum.day==7"}],
          "encoding": {"x": {"field": "x", "type": "quantitative", "scale": {"domain": [-0.0025, 0.0845], "nice": false, "zero": false}, "axis": null},
                       "y": {"field": "y", "type": "quantitative", "scale": {"domain": [-0.0032, 0.0863], "nice": false, "zero": false}, "axis": null}},
          "layer": [{"transform": [{"regression": "y", "on": "x"}], "mark": {"type": "line", "color": "#A3A500", "strokeWidth": 0.9}},
                    {"mark": {"type": "circle", "color": "#A3A500", "size": 22, "opacity": 1}}]},
         {"width": 99, "height": 103,
          "data": {"name": "vj"}, "transform": [{"filter": "datum.set=='C' && datum.day==14"}],
          "encoding": {"x": {"field": "x", "type": "quantitative", "scale": {"domain": [-0.0025, 0.0845], "nice": false, "zero": false}, "axis": null},
                       "y": {"field": "y", "type": "quantitative", "scale": {"domain": [-0.0032, 0.0863], "nice": false, "zero": false}, "axis": null}},
          "layer": [{"transform": [{"regression": "y", "on": "x"}], "mark": {"type": "line", "color": "#00BF7D", "strokeWidth": 0.9}},
                    {"mark": {"type": "circle", "color": "#00BF7D", "size": 22, "opacity": 1}}]},
         {"width": 99, "height": 103,
          "data": {"name": "vj"}, "transform": [{"filter": "datum.set=='C' && datum.day==21"}],
          "encoding": {"x": {"field": "x", "type": "quantitative", "scale": {"domain": [-0.0025, 0.0845], "nice": false, "zero": false}, "axis": {"values": [0, 0.02, 0.04, 0.06], "format": ".2f", "title": null, "labelFontSize": 11, "labelOverlap": false, "labelFlush": false, "labelBound": false}},
                       "y": {"field": "y", "type": "quantitative", "scale": {"domain": [-0.0032, 0.0863], "nice": false, "zero": false}, "axis": {"values": [0, 0.02, 0.04, 0.06, 0.08], "format": ".2f", "title": null, "labelFontSize": 11}}},
          "layer": [{"transform": [{"regression": "y", "on": "x"}], "mark": {"type": "line", "color": "#00B0F6", "strokeWidth": 0.9}},
                    {"mark": {"type": "circle", "color": "#00B0F6", "size": 22, "opacity": 1}}]},
         {"width": 99, "height": 103,
          "data": {"name": "vj"}, "transform": [{"filter": "datum.set=='C' && datum.day==28"}],
          "encoding": {"x": {"field": "x", "type": "quantitative", "scale": {"domain": [-0.0025, 0.0845], "nice": false, "zero": false}, "axis": {"values": [0, 0.02, 0.04, 0.06], "format": ".2f", "title": "VJ proportions, PCR 1", "titleFontSize": 18, "titlePadding": 3, "labelFontSize": 11, "labelOverlap": false, "labelFlush": false, "labelBound": false}},
                       "y": {"field": "y", "type": "quantitative", "scale": {"domain": [-0.0032, 0.0863], "nice": false, "zero": false}, "axis": null}},
          "layer": [{"transform": [{"regression": "y", "on": "x"}], "mark": {"type": "line", "color": "#E76BF3", "strokeWidth": 0.9}},
                    {"mark": {"type": "circle", "size": 22, "opacity": 1, "strokeWidth": 0},
                     "encoding": {
                      "fill": {"field": "day", "type": "nominal", "scale": {"domain": [0, 7, 14, 21, 28], "range": ["#F8766D", "#A3A500", "#00BF7D", "#00B0F6", "#E76BF3"]},
                        "legend": {"title": "Day", "orient": "right", "offset": 5, "padding": 0, "symbolType": "M-1,0H1M-0.34,0A0.34,0.34,0,1,1,0.34,0A0.34,0.34,0,1,1,-0.34,0Z", "symbolSize": 200, "symbolStrokeWidth": 1, "labelFontSize": 14, "titleFontSize": 17, "titleFontWeight": "bold", "rowPadding": 3.5, "titlePadding": 4, "labelOffset": 6,
                          "labelExpr": "{'0':'0\u00a0\u00a0\u00a0(r=0.998)','7':'7\u00a0\u00a0\u00a0(r=0.997)','14':'14\u00a0\u00a0\u00a0(r=0.998)','21':'21\u00a0\u00a0\u00a0(r=0.999)','28':'28\u00a0\u00a0\u00a0(r=0.998)'}[datum.label]"}},
                      "stroke": {"field": "day", "type": "nominal", "scale": {"domain": [0, 7, 14, 21, 28], "range": ["#F8766D", "#A3A500", "#00BF7D", "#00B0F6", "#E76BF3"]},
                        "legend": {"title": "Day", "orient": "right", "offset": 5, "padding": 0, "symbolType": "M-1,0H1M-0.34,0A0.34,0.34,0,1,1,0.34,0A0.34,0.34,0,1,1,-0.34,0Z", "symbolSize": 200, "symbolStrokeWidth": 1, "labelFontSize": 14, "titleFontSize": 17, "titleFontWeight": "bold", "rowPadding": 3.5, "titlePadding": 4, "labelOffset": 6,
                          "labelExpr": "{'0':'0\u00a0\u00a0\u00a0(r=0.998)','7':'7\u00a0\u00a0\u00a0(r=0.997)','14':'14\u00a0\u00a0\u00a0(r=0.998)','21':'21\u00a0\u00a0\u00a0(r=0.999)','28':'28\u00a0\u00a0\u00a0(r=0.998)'}[datum.label]"}}}}]}
        ]
       }
      ],
      "resolve": {"scale": {"fill": "independent", "stroke": "independent"}, "legend": {"fill": "independent", "stroke": "independent"}}
     }
    ],
    "spacing": 29,
    "resolve": {"scale": {"fill": "independent", "stroke": "independent"}, "legend": {"fill": "independent", "stroke": "independent"}}
   },
   {
    "hconcat": [
     {"width": 138, "height": 212,
      "title": {"text": "D", "orient": "top", "anchor": "start", "frame": "group", "dx": -82, "offset": -9, "fontSize": 19, "fontWeight": "bold", "color": "black"},
      "data": {"values": [{"ds": "Total", "mean": 13.5, "lo": 13.0, "hi": 14.2}, {"ds": "Rare", "mean": 11.6, "lo": 11.2, "hi": 12.1}, {"ds": "Abundant", "mean": 43.8, "lo": 40.4, "hi": 47.2}]},
      "encoding": {"x": {"field": "ds", "type": "nominal", "sort": ["Total", "Rare", "Abundant"], "scale": {"paddingInner": 0.1, "paddingOuter": 0.15},
                         "axis": {"title": "Dataset", "labelAngle": 0, "labelFontSize": 11.5, "titleFontSize": 18.5, "titlePadding": 2}}},
      "layer": [
       {"mark": {"type": "bar", "fill": "#cbcbcb", "stroke": "#595959", "strokeWidth": 1},
        "encoding": {"y": {"field": "mean", "type": "quantitative", "scale": {"domain": [-5, 105], "nice": false, "zero": false},
                           "axis": {"values": [0, 25, 50, 75, 100], "title": ["Clusters overlapping", "between bio. replicates (%)"], "titleFontSize": 18.5, "titleLineHeight": 22, "labelFontSize": 13, "titlePadding": 14}},
                     "y2": {"datum": 0}}},
       {"mark": {"type": "rule", "color": "black", "strokeWidth": 1.5},
        "encoding": {"y": {"field": "lo", "type": "quantitative"}, "y2": {"field": "hi"}}},
       {"mark": {"type": "tick", "color": "black", "thickness": 1.5, "size": 19},
        "encoding": {"y": {"field": "lo", "type": "quantitative"}}},
       {"mark": {"type": "tick", "color": "black", "thickness": 1.5, "size": 19},
        "encoding": {"y": {"field": "hi", "type": "quantitative"}}}
      ]},
     {
      "title": {"text": "E", "orient": "top", "anchor": "start", "frame": "bounds", "dx": 2, "offset": 1, "fontSize": 19, "fontWeight": "bold", "color": "black"},
      "vconcat": [
       {
        "title": {"text": "VJ proportions, bio. 2", "orient": "left", "anchor": "middle", "frame": "bounds", "dx": 19, "offset": 7, "fontSize": 18, "fontWeight": "normal", "color": "black"},
        "columns": 3,
        "spacing": {"row": 8, "column": 8},
        "bounds": "flush",
        "resolve": {"scale": {"fill": "independent", "stroke": "independent"}, "legend": {"fill": "independent", "stroke": "independent"}},
        "concat": [
         {"width": 99, "height": 102,
          "data": {"name": "vj"}, "transform": [{"filter": "datum.set=='E' && datum.day==0"}],
          "encoding": {"x": {"field": "x", "type": "quantitative", "scale": {"domain": [-0.0025, 0.0845], "nice": false, "zero": false}, "axis": null},
                       "y": {"field": "y", "type": "quantitative", "scale": {"domain": [-0.0043, 0.0843], "nice": false, "zero": false}, "axis": {"values": [0, 0.02, 0.04, 0.06, 0.08], "format": ".2f", "title": null, "labelFontSize": 11}}},
          "layer": [{"transform": [{"regression": "y", "on": "x"}], "mark": {"type": "line", "color": "#F8766D", "strokeWidth": 0.9}},
                    {"mark": {"type": "circle", "color": "#F8766D", "size": 22, "opacity": 1}}]},
         {"width": 99, "height": 102,
          "data": {"name": "vj"}, "transform": [{"filter": "datum.set=='E' && datum.day==7"}],
          "encoding": {"x": {"field": "x", "type": "quantitative", "scale": {"domain": [-0.0025, 0.0845], "nice": false, "zero": false}, "axis": null},
                       "y": {"field": "y", "type": "quantitative", "scale": {"domain": [-0.0043, 0.0843], "nice": false, "zero": false}, "axis": null}},
          "layer": [{"transform": [{"regression": "y", "on": "x"}], "mark": {"type": "line", "color": "#A3A500", "strokeWidth": 0.9}},
                    {"mark": {"type": "circle", "color": "#A3A500", "size": 22, "opacity": 1}}]},
         {"width": 99, "height": 102,
          "data": {"name": "vj"}, "transform": [{"filter": "datum.set=='E' && datum.day==14"}],
          "encoding": {"x": {"field": "x", "type": "quantitative", "scale": {"domain": [-0.0025, 0.0845], "nice": false, "zero": false}, "axis": null},
                       "y": {"field": "y", "type": "quantitative", "scale": {"domain": [-0.0043, 0.0843], "nice": false, "zero": false}, "axis": null}},
          "layer": [{"transform": [{"regression": "y", "on": "x"}], "mark": {"type": "line", "color": "#00BF7D", "strokeWidth": 0.9}},
                    {"mark": {"type": "circle", "color": "#00BF7D", "size": 22, "opacity": 1}}]},
         {"width": 99, "height": 102,
          "data": {"name": "vj"}, "transform": [{"filter": "datum.set=='E' && datum.day==21"}],
          "encoding": {"x": {"field": "x", "type": "quantitative", "scale": {"domain": [-0.0025, 0.0845], "nice": false, "zero": false}, "axis": {"values": [0, 0.02, 0.04, 0.06], "format": ".2f", "title": null, "labelFontSize": 11, "labelOverlap": false, "labelFlush": false, "labelBound": false}},
                       "y": {"field": "y", "type": "quantitative", "scale": {"domain": [-0.0043, 0.0843], "nice": false, "zero": false}, "axis": {"values": [0, 0.02, 0.04, 0.06, 0.08], "format": ".2f", "title": null, "labelFontSize": 11}}},
          "layer": [{"transform": [{"regression": "y", "on": "x"}], "mark": {"type": "line", "color": "#00B0F6", "strokeWidth": 0.9}},
                    {"mark": {"type": "circle", "color": "#00B0F6", "size": 22, "opacity": 1}}]},
         {"width": 99, "height": 102,
          "data": {"name": "vj"}, "transform": [{"filter": "datum.set=='E' && datum.day==28"}],
          "encoding": {"x": {"field": "x", "type": "quantitative", "scale": {"domain": [-0.0025, 0.0845], "nice": false, "zero": false}, "axis": {"values": [0, 0.02, 0.04, 0.06], "format": ".2f", "title": "VJ proportions, bio. 1", "titleFontSize": 18, "titlePadding": 3, "labelFontSize": 11, "labelOverlap": false, "labelFlush": false, "labelBound": false}},
                       "y": {"field": "y", "type": "quantitative", "scale": {"domain": [-0.0043, 0.0843], "nice": false, "zero": false}, "axis": null}},
          "layer": [{"transform": [{"regression": "y", "on": "x"}], "mark": {"type": "line", "color": "#E76BF3", "strokeWidth": 0.9}},
                    {"mark": {"type": "circle", "size": 22, "opacity": 1, "strokeWidth": 0},
                     "encoding": {
                      "fill": {"field": "day", "type": "nominal", "scale": {"domain": [0, 7, 14, 21, 28], "range": ["#F8766D", "#A3A500", "#00BF7D", "#00B0F6", "#E76BF3"]},
                        "legend": {"title": "Day", "orient": "right", "offset": 5, "padding": 0, "symbolType": "M-1,0H1M-0.34,0A0.34,0.34,0,1,1,0.34,0A0.34,0.34,0,1,1,-0.34,0Z", "symbolSize": 200, "symbolStrokeWidth": 1, "labelFontSize": 14, "titleFontSize": 17, "titleFontWeight": "bold", "rowPadding": 3.5, "titlePadding": 4, "labelOffset": 6,
                          "labelExpr": "{'0':'0\u00a0\u00a0\u00a0(r=0.996)','7':'7\u00a0\u00a0\u00a0(r=0.995)','14':'14\u00a0\u00a0\u00a0(r=0.997)','21':'21\u00a0\u00a0\u00a0(r=0.997)','28':'28\u00a0\u00a0\u00a0(r=0.995)'}[datum.label]"}},
                      "stroke": {"field": "day", "type": "nominal", "scale": {"domain": [0, 7, 14, 21, 28], "range": ["#F8766D", "#A3A500", "#00BF7D", "#00B0F6", "#E76BF3"]},
                        "legend": {"title": "Day", "orient": "right", "offset": 5, "padding": 0, "symbolType": "M-1,0H1M-0.34,0A0.34,0.34,0,1,1,0.34,0A0.34,0.34,0,1,1,-0.34,0Z", "symbolSize": 200, "symbolStrokeWidth": 1, "labelFontSize": 14, "titleFontSize": 17, "titleFontWeight": "bold", "rowPadding": 3.5, "titlePadding": 4, "labelOffset": 6,
                          "labelExpr": "{'0':'0\u00a0\u00a0\u00a0(r=0.996)','7':'7\u00a0\u00a0\u00a0(r=0.995)','14':'14\u00a0\u00a0\u00a0(r=0.997)','21':'21\u00a0\u00a0\u00a0(r=0.997)','28':'28\u00a0\u00a0\u00a0(r=0.995)'}[datum.label]"}}}}]}
        ]
       }
      ],
      "resolve": {"scale": {"fill": "independent", "stroke": "independent"}, "legend": {"fill": "independent", "stroke": "independent"}}
     }
    ],
    "spacing": 29,
    "resolve": {"scale": {"fill": "independent", "stroke": "independent"}, "legend": {"fill": "independent", "stroke": "independent"}}
   }
  ],
  "spacing": 7,
  "resolve": {"scale": {"fill": "independent", "stroke": "independent"}, "legend": {"fill": "independent", "stroke": "independent"}}
 }
]
}
